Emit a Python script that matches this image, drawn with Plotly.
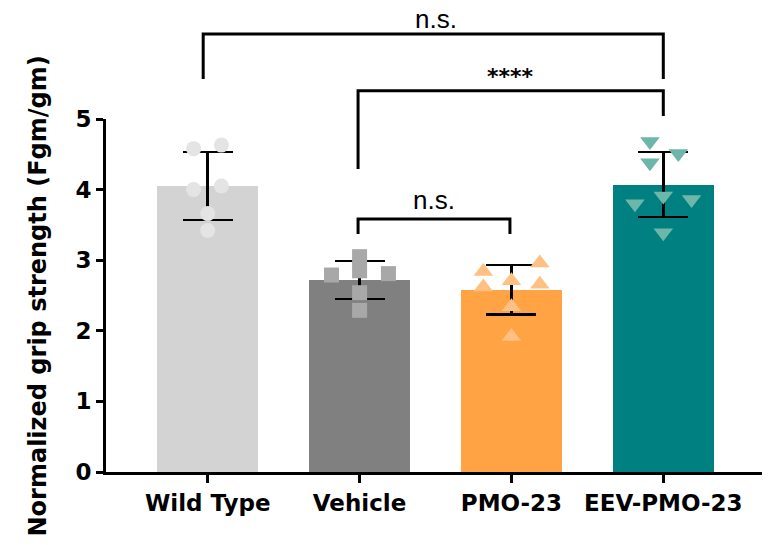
import plotly.graph_objects as go

# ---- data ----
groups = ["Wild Type", "Vehicle", "PMO-23", "EEV-PMO-23"]
means = [4.05, 2.72, 2.58, 4.07]
sds = [0.48, 0.27, 0.35, 0.46]

wt_points = [4.58, 4.63, 4.00, 4.05, 3.66, 3.42]
vehicle_points = [3.05, 2.85, 2.79, 2.81, 2.54, 2.29]
pmo_points = [2.84, 2.62, 2.71, 2.96, 2.66, 2.34, 1.92]
eev_points = [4.68, 4.51, 4.38, 3.91, 3.80, 3.86, 3.39]

y_ticks = [0, 1, 2, 3, 4, 5]

# ---- styling ----
bar_colors = ["#D3D3D3", "#808080", "#FFA344", "#008080"]
pt_colors = ["#E4E4E4", "#A8A8A8", "#FFC083", "#6DB6AA"]
pt_symbols = ["circle", "square", "triangle-up", "triangle-down"]
pt_sizes = [15, 15, 17, 17]
jitters = [
    [-0.093, 0.09, -0.093, 0.09, 0.0, 0.0],
    [0.0, 0.0, -0.185, 0.19, 0.0, 0.0],
    [-0.185, -0.185, 0.0, 0.187, 0.187, 0.0, 0.0],
    [-0.088, 0.099, -0.088, 0.0, -0.187, 0.186, 0.0],
]
all_points = [wt_points, vehicle_points, pmo_points, eev_points]

FONT = "DejaVu Sans"
FONT2 = "Liberation Sans"

fig = go.Figure()
xs = list(range(len(groups)))
fig.add_trace(go.Bar(
    x=xs, y=means, width=0.665,
    marker=dict(color=bar_colors, line=dict(width=0)),
    error_y=dict(type="data", array=sds, visible=True, color="black",
                 thickness=2.5, width=25),
    showlegend=False,
))
for i, pts in enumerate(all_points):
    fig.add_trace(go.Scatter(
        x=[i + j for j in jitters[i]], y=pts, mode="markers",
        marker=dict(symbol=pt_symbols[i], size=pt_sizes[i], color=pt_colors[i],
                    line=dict(width=0)),
        showlegend=False, cliponaxis=False,
    ))

# significance brackets (x in category units, y in paper units above plot)
def bracket(x0, x1, ytop, yl, yr):
    fig.add_shape(type="path", xref="x", yref="paper",
                  path=f"M {x0},{yl} L {x0},{ytop} L {x1},{ytop} L {x1},{yr}",
                  line=dict(color="black", width=3))

bracket(-0.03, 3.0, 1.2408, 1.1133, 1.1133)
bracket(0.99, 3.0, 1.0802, 0.8584, 1.0085)
bracket(0.99, 1.99, 0.7167, 0.6742, 0.6742)

def label(x, y, text, size, family, bold=False, yshift=0):
    fig.add_annotation(x=x, y=y, xref="x", yref="paper", text=text,
                       showarrow=False, yanchor="bottom", xanchor="center",
                       yshift=yshift,
                       font=dict(family=family, size=size, color="black",
                                 weight="bold" if bold else "normal"))

label(1.5, 1.2408, "n.s.", 26, FONT2, yshift=-2)
label(1.995, 1.0802, "****", 22, FONT, bold=True)
label(1.49, 0.7167, "n.s.", 26, FONT2, yshift=2)

fig.add_annotation(x=-0.1037, y=0.5, xref="paper", yref="paper",
                   text="Normalized grip strength (Fgm/gm)", textangle=-90,
                   showarrow=False, xanchor="center", yanchor="middle",
                   font=dict(family=FONT, size=24, color="black", weight="bold"))

fig.update_layout(
    width=770, height=545,
    margin=dict(l=106, r=8, t=119, b=73),
    paper_bgcolor="white", plot_bgcolor="white",
    bargap=0,
    font=dict(family=FONT, color="black"),
    xaxis=dict(range=[-0.67, 3.65], tickmode="array", tickvals=xs, ticktext=groups,
               showline=True, linecolor="black", linewidth=3,
               ticks="outside", ticklen=8, tickwidth=3, tickcolor="black",
               tickfont=dict(family=FONT, size=23, color="black", weight="bold"),
               showgrid=False, zeroline=False, fixedrange=True),
    yaxis=dict(range=[0, 5], tickvals=y_ticks,
               showline=True, linecolor="black", linewidth=3,
               ticks="outside", ticklen=7, tickwidth=3, tickcolor="black",
               tickfont=dict(family=FONT, size=23, color="black", weight="bold"),
               showgrid=False, zeroline=False, fixedrange=True),
)

fig.write_html("out.html", config={"displayModeBar": False},
               post_script="document.body.style.margin='0';document.body.style.overflow='hidden';")
